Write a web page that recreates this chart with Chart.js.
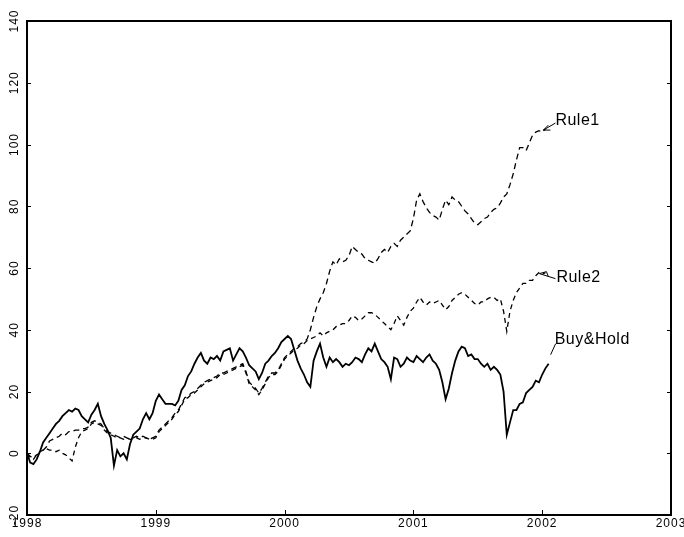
<!DOCTYPE html>
<html>
<head>
<meta charset="utf-8">
<script src="https://cdn.jsdelivr.net/npm/chart.js@4.4.1/dist/chart.umd.min.js"></script>
<style>
  html, body { margin: 0; padding: 0; background: #fff; }
  #wrap { width: 684px; height: 537px; }
</style>
</head>
<body>
<div id="wrap"><canvas id="chart" width="684" height="537"></canvas></div>
<script>
// sampling: one value every 0.025 year starting Jan 1998
const startYear = 1998;
const stepYears = 0.025;

const xTicks = [1998, 1999, 2000, 2001, 2002, 2003];
const yTicks = [-20, 0, 20, 40, 60, 80, 100, 120, 140];

const seriesNames = ['Buy&Hold', 'Rule1', 'Rule2'];

const buyHold = [
  0, -3, -3.5, -2, 0.5, 3.5, 5, 6.5, 8, 9.5,
  10.5, 12, 13, 14, 13.5, 14.5, 14, 12, 11, 10,
  12.5, 14, 16, 12, 9.5, 7.5, 5, -4, 1, -1,
  0, -2, 3, 6, 7, 8, 11, 13, 11, 13,
  17, 19, 17.5, 16, 16, 16, 15.5, 17, 20.5, 22,
  25, 26.5, 29, 31, 32.5, 30, 29, 31, 30.5, 31.5,
  30, 33, 33.5, 34, 30, 32, 34, 33, 31, 28.5,
  27.5, 26.5, 24, 26, 29, 30, 31.5, 32.5, 34, 36,
  37, 38, 37, 33.5, 30, 27.5, 25.5, 23, 21.5, 30,
  33, 35.5, 31, 28, 31, 29.5, 30.5, 29.5, 28, 29,
  28.5, 29.5, 31, 30.5, 29.5, 32, 34, 33, 35.5, 33,
  30.5, 29.5, 28, 24, 31, 30.5, 28, 29, 31, 30,
  29.5, 31.5, 30.5, 29.5, 31, 32, 30, 29, 27, 23,
  17.5, 21, 26, 30, 33, 34.5, 34, 31.5, 32, 30.5,
  30.5, 29, 28, 29, 27, 28, 27, 25.5, 20, 6,
  10, 14, 14, 16, 16.5, 19.5, 20.5, 21.5, 23.5, 23,
  25.5, 27.5, 29
];

const rule1 = [
  0, -1, -1.5, -0.5, 0, 1, 2, 4, 4.5, 5,
  5.5, 6.5, 6, 7, 7, 7.5, 7.5, 8, 8, 8.5,
  10, 10.5, 10, 9.5, 8, 7, 6.5, 6, 5.5, 5,
  5.5, 5, 4.5, 5, 5.5, 5, 5.5, 5, 4.5, 5,
  5.5, 7.5, 8.5, 9.5, 10.5, 11.5, 13, 14, 16, 18,
  18.5, 19.5, 20, 21, 22, 23, 23.5, 24, 24.5, 25,
  26, 26, 26.5, 27, 27.5, 28, 28.5, 29, 26.5, 23,
  22, 21, 19.5, 21, 23, 25, 26, 26, 27, 29,
  31, 32, 33, 34, 34.5, 35.5, 36, 37, 40, 44,
  47.5, 50, 52, 55, 59, 62, 61, 63, 62, 62.5,
  64, 67, 66, 65, 64.5, 63, 62.5, 62, 61.5, 63,
  65, 66, 65, 67, 68, 67, 69, 70, 71, 72,
  76, 82, 84, 81.5, 79.5, 78, 77, 76.5, 75.5, 79,
  82, 80.5, 83, 82, 81.5, 80, 78.5, 77.5, 76, 74.5,
  74, 75, 76, 76.5, 78, 79, 79.5, 81, 83, 84,
  87, 90.5, 95, 99, 99, 98, 100.5, 103, 104, 104.5,
  104, 105
];

const rule2 = [
  0, -1.5, -2, -0.5, 0.5, 1, 1.5, 1, 1, 0.5,
  1, 0, -0.5, -1.5, -2.5, 2, 5, 7, 7.5, 8,
  9.5, 10, 9.5, 9, 7.5, 6.5, 6, 5.5, 5, 5,
  4.5, 5, 4.5, 4.5, 5, 4.5, 5, 5, 4.5, 4.5,
  5, 7, 8, 9, 10, 11, 12.5, 13.5, 15.5, 17.5,
  18, 19, 19.5, 20.5, 21.5, 22.5, 23, 23.5, 24, 24.5,
  25.5, 25.5, 26, 26.5, 27, 27.5, 28, 28.5, 26, 22.5,
  21.5, 20.5, 19, 20.5, 22.5, 24.5, 25.5, 25.5, 26.5, 28.5,
  30.5, 31.5, 32.5, 33.5, 34, 35, 35.5, 36.5, 37, 37.5,
  38, 39, 38, 39, 39.5, 40, 41, 41.5, 42, 42,
  43, 44.5, 44, 43, 43.5, 44.5, 45.5, 45.5, 45, 44,
  43, 42, 41, 40, 42, 44.5, 43, 41.5, 44, 46,
  47, 49, 50.5, 49, 48, 49, 48.5, 49, 49.5, 48,
  46.5, 47.5, 49.5, 50.5, 51.5, 52, 51.5, 50.5, 49.5, 48.5,
  48, 49, 49, 50, 50.5, 50.5, 49.5, 50, 46, 39.5,
  46, 49.5, 52, 53.5, 55, 55, 56, 56, 57.5, 58.5,
  58, 58.5
];

const toPoints = (values) => values.map((v, i) => ({ x: startYear + i * stepYears, y: v }));

// frame, inward ticks, rotated y labels and the series labels with leaders
const framePlugin = {
  id: 'frame',
  afterDatasetsDraw(chart) {
    const { ctx, chartArea: a, scales } = chart;
    const xs = scales.x, ys = scales.y;
    ctx.save();
    ctx.strokeStyle = '#000';
    ctx.fillStyle = '#000';
    ctx.lineWidth = 2;
    ctx.setLineDash([]);
    ctx.strokeRect(a.left, a.top, a.right - a.left, a.bottom - a.top);

    ctx.lineWidth = 1;
    ctx.beginPath();
    xTicks.forEach(t => {
      const px = Math.round(xs.getPixelForValue(t)) + 0.5;
      ctx.moveTo(px, a.bottom);
      ctx.lineTo(px, a.bottom - 5);
    });
    yTicks.forEach(t => {
      const py = Math.round(ys.getPixelForValue(t)) + 0.5;
      ctx.moveTo(a.left, py);
      ctx.lineTo(a.left + 4, py);
      ctx.moveTo(a.right, py);
      ctx.lineTo(a.right - 4, py);
    });
    ctx.stroke();

    ctx.font = '12px "Liberation Sans", Arial, sans-serif';
    ctx.letterSpacing = '1px';
    ctx.textAlign = 'center';
    ctx.textBaseline = 'alphabetic';
    xTicks.forEach(t => {
      ctx.fillText(String(t), xs.getPixelForValue(t), a.bottom + 12);
    });
    yTicks.forEach(t => {
      ctx.save();
      ctx.translate(a.left - 9, ys.getPixelForValue(t));
      ctx.rotate(-Math.PI / 2);
      ctx.fillText(String(t), 0, 0);
      ctx.restore();
    });

    // series labels
    ctx.font = '16px "Liberation Sans", Arial, sans-serif';
    ctx.letterSpacing = '0.5px';
    ctx.textAlign = 'left';
    ctx.textBaseline = 'middle';
    const ends = chart.data.datasets.map(ds => {
      const p = ds.data[ds.data.length - 1];
      return { x: xs.getPixelForValue(p.x), y: ys.getPixelForValue(p.y) };
    });

    // Buy&Hold
    let e = ends[0];
    ctx.beginPath();
    ctx.moveTo(e.x + 2, e.y - 9);
    ctx.lineTo(e.x + 7, e.y - 20);
    ctx.stroke();
    ctx.fillText(seriesNames[0], e.x + 6, e.y - 24);

    // Rule1
    e = ends[1];
    ctx.beginPath();
    ctx.moveTo(e.x - 2, e.y + 1);
    ctx.lineTo(e.x + 10, e.y - 6);
    ctx.moveTo(e.x - 2, e.y + 1);
    ctx.lineTo(e.x + 3, e.y - 4);
    ctx.moveTo(e.x - 2, e.y + 1);
    ctx.lineTo(e.x + 5, e.y + 1);
    ctx.stroke();
    ctx.fillText(seriesNames[1], e.x + 10, e.y - 8);

    // Rule2
    e = ends[2];
    ctx.beginPath();
    ctx.moveTo(e.x - 6, e.y + 1);
    ctx.lineTo(e.x + 10, e.y + 6);
    ctx.moveTo(e.x - 6, e.y + 1);
    ctx.lineTo(e.x + 1, e.y - 1);
    ctx.lineTo(e.x + 3, e.y + 4);
    ctx.stroke();
    ctx.fillText(seriesNames[2], e.x + 11, e.y + 5);
    ctx.restore();
  }
};

new Chart(document.getElementById('chart').getContext('2d'), {
  type: 'line',
  data: {
    datasets: [
      {
        label: seriesNames[0],
        data: toPoints(buyHold),
        borderColor: '#000',
        borderWidth: 1.8,
        pointRadius: 0,
        tension: 0
      },
      {
        label: seriesNames[1],
        data: toPoints(rule1),
        borderColor: '#000',
        borderWidth: 1.3,
        borderDash: [6, 4],
        pointRadius: 0,
        tension: 0
      },
      {
        label: seriesNames[2],
        data: toPoints(rule2),
        borderColor: '#000',
        borderWidth: 1.3,
        borderDash: [5, 4],
        pointRadius: 0,
        tension: 0
      }
    ]
  },
  options: {
    responsive: false,
    animation: false,
    layout: { padding: { left: 27, top: 21, right: 13, bottom: 22 } },
    plugins: {
      legend: { display: false },
      tooltip: { enabled: false }
    },
    scales: {
      x: { type: 'linear', min: 1998, max: 2003, display: false },
      y: { type: 'linear', min: -20, max: 140, display: false }
    }
  },
  plugins: [framePlugin]
});
</script>
</body>
</html>
